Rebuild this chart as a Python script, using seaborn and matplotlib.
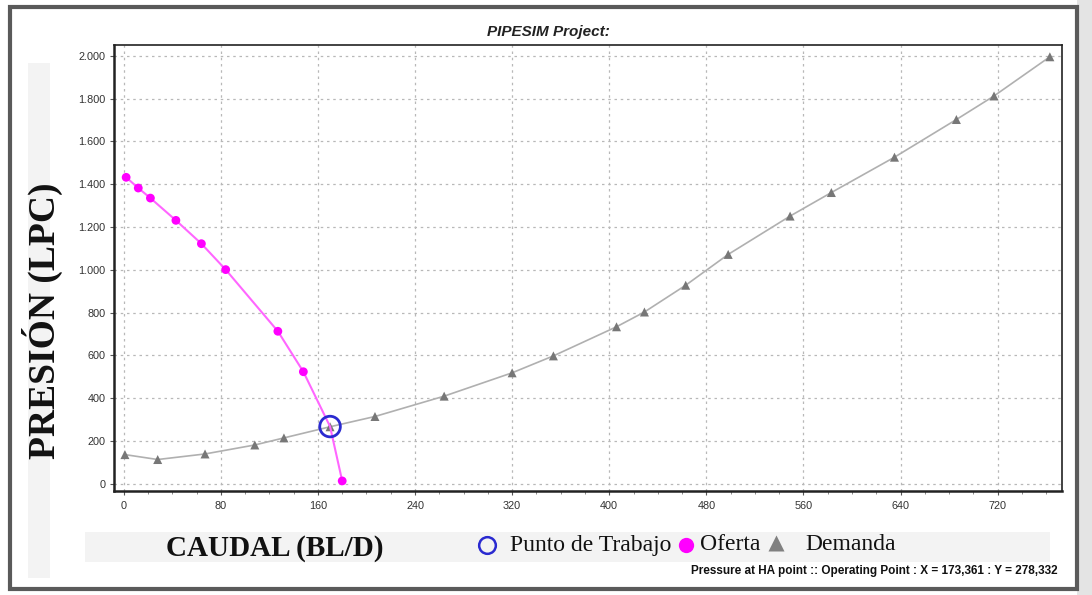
import numpy as np
import pandas as pd
import matplotlib
matplotlib.use("Agg")
import matplotlib.pyplot as plt
from matplotlib.ticker import FuncFormatter, MultipleLocator
from matplotlib.patches import Rectangle
from matplotlib.lines import Line2D
import seaborn as sns

# ---------------- data ----------------
oferta_x = [2, 12, 22, 43, 64, 84, 127, 148, 180]
oferta_y = [1432, 1382, 1335, 1231, 1122, 1001, 713, 524, 14]

demanda_x = [1, 28, 67, 108, 132, 170, 207, 264, 320, 354, 406, 429, 463,
             498, 549, 583, 635, 686, 717, 763]
demanda_y = [137, 114, 140, 182, 215, 267, 315, 410, 519, 598, 734, 803, 928,
             1072, 1251, 1361, 1526, 1702, 1812, 1995]

punto_x = [170]
punto_y = [268]

x_ticks = [0, 80, 160, 240, 320, 400, 480, 560, 640, 720]
y_ticks = [0, 200, 400, 600, 800, 1000, 1200, 1400, 1600, 1800, 2000]

title_text = "PIPESIM Project:"
footer_text = "Pressure at HA point :: Operating Point : X = 173,361 : Y = 278,332"
legend_labels = ["Punto de Trabajo", "Oferta", "Demanda"]

# ---------------- style ----------------
sns.set_theme(style="white")
plt.rcParams["font.family"] = ["Liberation Sans", "DejaVu Sans"]
SERIF = ["Liberation Serif", "DejaVu Serif"]

W, H = 1092, 595
fig = plt.figure(figsize=(W / 100, H / 100), dpi=100)
fig.patch.set_facecolor("white")


def fx(px):
    return px / W


def fy(py):
    return 1 - py / H


# outer frame and faint background bands
fig.patches.append(Rectangle((fx(28), fy(578)), 22 / W, 515 / H,
                             transform=fig.transFigure, facecolor="#f3f3f3",
                             edgecolor="none", zorder=0))
fig.patches.append(Rectangle((fx(85), fy(562)), 965 / W, 30 / H,
                             transform=fig.transFigure, facecolor="#f3f3f3",
                             edgecolor="none", zorder=0))
fig.patches.append(Rectangle((fx(1077), 0), 15 / W, 1,
                             transform=fig.transFigure, facecolor="#e4e4e4",
                             edgecolor="none", zorder=0))
fig.patches.append(Rectangle((fx(10), fy(589)), 1067 / W, 582 / H,
                             transform=fig.transFigure, facecolor="none",
                             edgecolor="#5a5a5a", linewidth=3, zorder=1))

ax = fig.add_axes([fx(114), fy(491), (1062 - 114) / W, (491 - 45) / H])
ax.set_facecolor("white")

oferta_df = pd.DataFrame({"x": oferta_x, "y": oferta_y})
demanda_df = pd.DataFrame({"x": demanda_x, "y": demanda_y})
punto_df = pd.DataFrame({"x": punto_x, "y": punto_y})

# oferta line passes through the operating point
oferta_line = pd.concat([oferta_df, punto_df]).sort_values("x")

sns.lineplot(data=demanda_df, x="x", y="y", ax=ax, color="#b0b0b0",
             linewidth=1.2, sort=True, zorder=3)
sns.scatterplot(data=demanda_df, x="x", y="y", ax=ax, marker="^", s=42,
                color="#777777", edgecolor="none", zorder=4)

sns.lineplot(data=oferta_line, x="x", y="y", ax=ax, color="#ff66ff",
             linewidth=1.5, sort=False, zorder=5)
sns.scatterplot(data=oferta_df, x="x", y="y", ax=ax, marker="o", s=40,
                color="#ff00ff", edgecolor="none", zorder=6)

sns.scatterplot(data=punto_df, x="x", y="y", ax=ax, marker="o", s=220,
                facecolor="none", edgecolor="#2a2ad0", linewidth=2, zorder=7)

ax.set_xlim(-8, 773)
ax.set_ylim(-33, 2050)
ax.set_xticks(x_ticks)
ax.set_yticks(y_ticks)
ax.xaxis.set_minor_locator(MultipleLocator(20))
ax.yaxis.set_major_formatter(FuncFormatter(lambda v, p: f"{int(v):,}".replace(",", ".")))
ax.tick_params(axis="both", which="major", labelsize=7.8, labelcolor="#333333",
               length=3, width=0.8, color="#555555", bottom=True, left=True)
ax.tick_params(axis="x", which="minor", length=2, width=0.6, color="#777777", bottom=True)
ax.tick_params(axis="x", pad=4)
ax.tick_params(axis="y", pad=3)
ax.grid(True, which="major", color="#b8b8b8", linestyle=(0, (2, 3)), linewidth=0.9)
ax.set_xlabel("")
ax.set_ylabel("")
for side, sp in ax.spines.items():
    sp.set_visible(True)
    sp.set_color("#222222")
    sp.set_linewidth(1.8 if side in ("left", "bottom") else 1.2)

# title
fig.text(fx(548), fy(32), title_text, ha="center", va="center",
         fontsize=11, fontweight="bold", fontstyle="italic", color="#222222")

# axis labels (serif)
fig.text(fx(42), fy(321), "PRESIÓN (LPC)", rotation=90, ha="center",
         va="center", fontsize=27, fontweight="bold", family=SERIF, color="#111111")
fig.text(fx(275), fy(549), "CAUDAL (BL/D)", ha="center", va="center",
         fontsize=21, fontweight="bold", family=SERIF, color="#111111")

# legend (manually positioned entries)
leg_y = fy(545)
fig.add_artist(Line2D([fx(487)], [leg_y], transform=fig.transFigure, linestyle="none",
                      marker="o", markersize=12, markerfacecolor="none",
                      markeredgecolor="#2a2ad0", markeredgewidth=1.8))
fig.text(fx(510), leg_y, legend_labels[0], ha="left", va="center", fontsize=17,
         family=SERIF, color="#111111")
fig.add_artist(Line2D([fx(686)], [leg_y], transform=fig.transFigure, linestyle="none",
                      marker="o", markersize=11, markerfacecolor="#ff00ff",
                      markeredgecolor="none"))
fig.text(fx(700), leg_y, legend_labels[1], ha="left", va="center", fontsize=17,
         family=SERIF, color="#111111")
fig.add_artist(Line2D([fx(776)], [fy(543)], transform=fig.transFigure, linestyle="none",
                      marker="^", markersize=12, markerfacecolor="#808080",
                      markeredgecolor="none"))
fig.text(fx(805), leg_y, legend_labels[2], ha="left", va="center", fontsize=17,
         family=SERIF, color="#111111")

fig.text(fx(1058), fy(571), footer_text, ha="right", va="center",
         fontsize=8.5, fontweight="bold", color="#111111")

fig.savefig("out.png", dpi=100, facecolor="white")
